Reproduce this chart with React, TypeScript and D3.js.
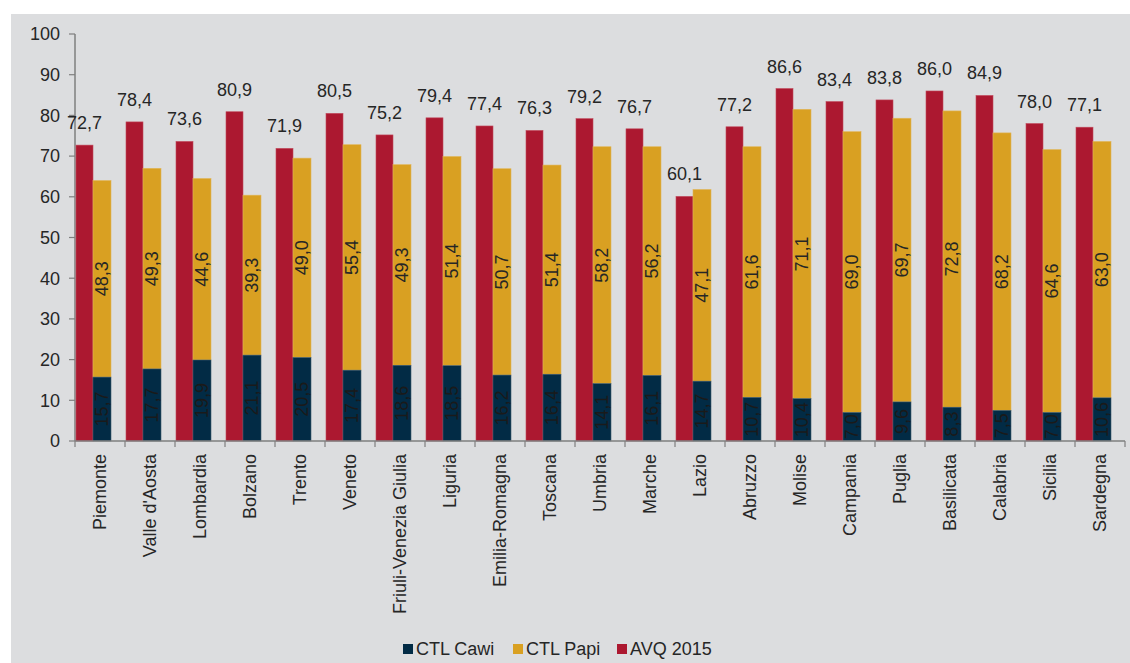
import React from "react";
import * as d3 from "d3";

const regions = ["Piemonte", "Valle d'Aosta", "Lombardia", "Bolzano", "Trento", "Veneto", "Friuli-Venezia Giulia", "Liguria", "Emilia-Romagna", "Toscana", "Umbria", "Marche", "Lazio", "Abruzzo", "Molise", "Campania", "Puglia", "Basilicata", "Calabria", "Sicilia", "Sardegna"];
const ctlCawi = [15.7, 17.7, 19.9, 21.1, 20.5, 17.4, 18.6, 18.5, 16.2, 16.4, 14.1, 16.1, 14.7, 10.7, 10.4, 7.0, 9.6, 8.3, 7.5, 7.0, 10.6];
const ctlPapi = [48.3, 49.3, 44.6, 39.3, 49.0, 55.4, 49.3, 51.4, 50.7, 51.4, 58.2, 56.2, 47.1, 61.6, 71.1, 69.0, 69.7, 72.8, 68.2, 64.6, 63.0];
const avq2015 = [72.7, 78.4, 73.6, 80.9, 71.9, 80.5, 75.2, 79.4, 77.4, 76.3, 79.2, 76.7, 60.1, 77.2, 86.6, 83.4, 83.8, 86.0, 84.9, 78.0, 77.1];
const yTicks = [0, 10, 20, 30, 40, 50, 60, 70, 80, 90, 100];
const legendItems = ["CTL Cawi", "CTL Papi", "AVQ 2015"];

const C_CAWI = "#022b45";
const C_PAPI = "#d9a022";
const C_AVQ = "#ac1830";
const FONT = "'Liberation Sans', Arial, sans-serif";
const TXT = "#262626";
const FS = 18;

const fmt = (v: number) => v.toFixed(1).replace(".", ",");

export default function App() {
  const W = 1130, H = 663;
  const x0 = 75, x1 = 1125;
  const x = d3.scaleBand<string>().domain(regions).range([x0, x1]).padding(0);
  const y = d3.scaleLinear().domain([0, 100]).range([441, 34]);
  const bw = x.bandwidth();
  const redOff = bw * 0.02, redW = bw * 0.34;
  const stOff = redOff + redW, stW = bw * 0.36;
  const legendColors = [C_CAWI, C_PAPI, C_AVQ];
  const legendX = [403, 513, 617];

  return (
    <svg width={W} height={H} style={{ position: "absolute", left: 0, top: 0 }} fontFamily={FONT}>
      <rect x={0} y={0} width={W} height={H} fill="#ffffff" />
      <rect x={11} y={14} width={W - 11} height={H - 14} fill="#dcdddf" />
      {/* y axis */}
      <line x1={x0} x2={x0} y1={y(100)} y2={y(0)} stroke="#7f7f7f" strokeWidth={1.5} />
      {yTicks.map((t) => (
        <g key={t}>
          <line x1={x0 - 6} x2={x0} y1={y(t)} y2={y(t)} stroke="#7f7f7f" strokeWidth={1.2} />
          <text x={60} y={y(t)} dy="0.35em" textAnchor="end" fontSize={FS} fill={TXT}>{t}</text>
        </g>
      ))}
      {/* bars */}
      {regions.map((r, i) => {
        const bx = x(r)!;
        const cx = bx + stOff + stW / 2;
        const rx = bx + redOff + redW / 2;
        const cawiTop = y(ctlCawi[i]);
        const papiTop = y(ctlCawi[i] + ctlPapi[i]);
        return (
          <g key={r}>
            <rect x={bx + redOff} y={y(avq2015[i])} width={redW} height={y(0) - y(avq2015[i])} fill={C_AVQ} stroke="#c24a5c" strokeWidth={0.6} />
            <rect x={bx + stOff} y={papiTop} width={stW} height={cawiTop - papiTop} fill={C_PAPI} stroke="#e2b65a" strokeWidth={0.6} />
            <rect x={bx + stOff} y={cawiTop} width={stW} height={y(0) - cawiTop} fill={C_CAWI} stroke="#3d5a70" strokeWidth={0.6} />
            <text x={rx} y={y(avq2015[i]) - 16} textAnchor="middle" fontSize={FS} fill={TXT}>{fmt(avq2015[i])}</text>
            <text transform={`translate(${cx},${(papiTop + cawiTop) / 2}) rotate(-90)`} dy="0.35em" textAnchor="middle" fontSize={FS} fill={TXT}>{fmt(ctlPapi[i])}</text>
            <text transform={`translate(${cx},${(cawiTop + y(0)) / 2}) rotate(-90)`} dy="0.35em" textAnchor="middle" fontSize={FS} fill="#1a1a1a">{fmt(ctlCawi[i])}</text>
          </g>
        );
      })}
      {/* x axis */}
      <line x1={x0} x2={x1} y1={y(0)} y2={y(0)} stroke="#7f7f7f" strokeWidth={1.5} />
      {regions.map((r) => (
        <line key={"t" + r} x1={x(r)!} x2={x(r)!} y1={y(0)} y2={y(0) + 6} stroke="#7f7f7f" strokeWidth={1.2} />
      ))}
      <line x1={x1} x2={x1} y1={y(0)} y2={y(0) + 6} stroke="#7f7f7f" strokeWidth={1.2} />
      {regions.map((r) => (
        <text key={"l" + r} transform={`translate(${x(r)! + bw / 2},${454}) rotate(-90)`} dy="0.35em" textAnchor="end" fontSize={FS} fill={TXT}>{r}</text>
      ))}
      {/* legend */}
      {legendItems.map((l, i) => (
        <g key={l}>
          <rect x={legendX[i]} y={644} width={10} height={10} fill={legendColors[i]} />
          <text x={legendX[i] + 13} y={649} dy="0.35em" fontSize={FS} fill={TXT}>{l}</text>
        </g>
      ))}
    </svg>
  );
}
